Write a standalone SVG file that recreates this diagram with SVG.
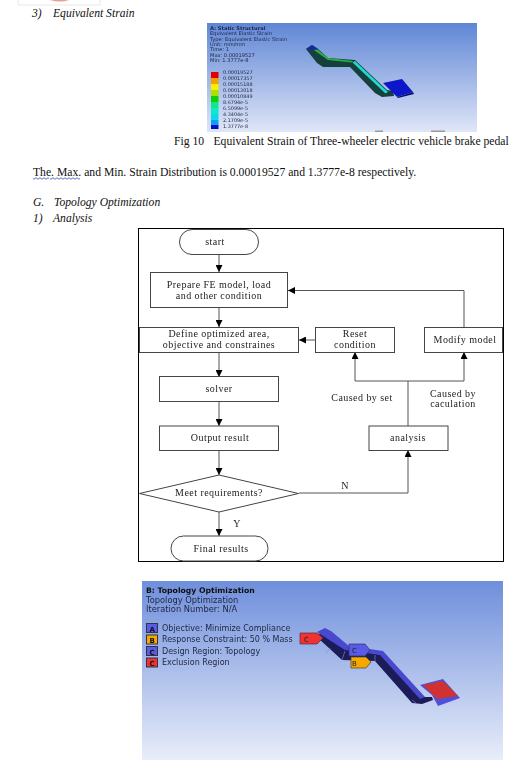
<svg xmlns="http://www.w3.org/2000/svg" width="531" height="769" viewBox="0 0 531 769">
<style>
text{font-family:"Liberation Serif","Times New Roman",serif;fill:#111}
.doc{font-size:11.67px}
.it{font-size:11.6px;font-style:italic}
.fc{font-size:10px;letter-spacing:.45px;text-anchor:middle;fill:#222}
.box{fill:#fff;stroke:#444;stroke-width:1}
.line{fill:none;stroke:#555;stroke-width:1}
.ans text{font-family:"DejaVu Sans",sans-serif;fill:#1f2540}
.leg{font-size:5.1px}
.val{font-size:4.9px}
.tree{font-size:8.3px}
.treel{font-size:8px}
.treeb{font-size:7.7px;font-weight:bold}
.sw{stroke:#334;stroke-width:1}
.tag{font-family:"DejaVu Sans",sans-serif;font-size:7px;fill:#222}
.tagb{font-family:"DejaVu Sans",sans-serif;font-size:7px;font-weight:bold;fill:#111}
.cut{fill:none;stroke:#8a8ad0;stroke-width:.6}
</style>
<defs>
<marker id="arr" markerWidth="8" markerHeight="7" refX="7" refY="3.500" orient="auto" markerUnits="userSpaceOnUse"><path d="M0 0L7 3.500L0 7z" fill="#000"/></marker>
<linearGradient id="g1" x1="0" y1="0" x2="0" y2="1"><stop offset="0" stop-color="#5f86d6"/><stop offset="1" stop-color="#dfe6f7"/></linearGradient>
<linearGradient id="g2" x1="0" y1="0" x2="0" y2="1"><stop offset="0" stop-color="#6f8fdc"/><stop offset="1" stop-color="#e8edf9"/></linearGradient>
<filter id="b" x="-2%" y="-2%" width="104%" height="104%"><feGaussianBlur stdDeviation=".3"/></filter>
<filter id="b2" x="-2%" y="-2%" width="104%" height="104%"><feGaussianBlur stdDeviation=".4"/></filter>
</defs>
<rect width="531" height="769" fill="#fff"/>

<g id="page-top">
<path d="M18 0V5H100V0" fill="none" stroke="#e8e8e8"/>
<path d="M50 0H69Q60 3 50 0z" fill="#f09a90"/>
<text class="it" x="32" y="17">3)</text>
<text class="it" x="53" y="17">Equivalent Strain</text>
</g>

<g id="strain-figure" filter="url(#b2)">
<rect x="207" y="23" width="270" height="109" fill="url(#g1)"/>
<g class="ans">
<text class="leg" x="210" y="29.500" font-weight="bold">A: Static Structural</text>
<text class="leg" x="210" y="35">Equivalent Elastic Strain</text>
<text class="leg" x="210" y="40.500">Type: Equivalent Elastic Strain</text>
<text class="leg" x="210" y="46">Unit: mm/mm</text>
<text class="leg" x="210" y="51">Time: 1</text>
<text class="leg" x="210" y="56.500">Max: 0.00019527</text>
<text class="leg" x="210" y="62">Min: 1.3777e-8</text>
<text class="val" x="223" y="73.500">0.00019527</text>
<text class="val" x="223" y="79.500">0.00017357</text>
<text class="val" x="223" y="85.500">0.00015188</text>
<text class="val" x="223" y="91.500">0.00013018</text>
<text class="val" x="223" y="97.500">0.00010849</text>
<text class="val" x="223" y="103.500">8.6794e-5</text>
<text class="val" x="223" y="110">6.5099e-5</text>
<text class="val" x="223" y="116">4.3404e-5</text>
<text class="val" x="223" y="122">2.1709e-5</text>
<text class="val" x="223" y="128">1.3777e-8</text>
</g>
<rect x="211" y="72" width="7.500" height="6" fill="#e00000"/>
<rect x="211" y="78" width="7.500" height="6" fill="#f0a000"/>
<rect x="211" y="84" width="7.500" height="6" fill="#f8f000"/>
<rect x="211" y="90" width="7.500" height="6" fill="#a8e000"/>
<rect x="211" y="96" width="7.500" height="6" fill="#10d000"/>
<rect x="211" y="102" width="7.500" height="6" fill="#10e890"/>
<rect x="211" y="108" width="7.500" height="6" fill="#10e8c8"/>
<rect x="211" y="114" width="7.500" height="6" fill="#10d8e8"/>
<rect x="211" y="120" width="7.500" height="5" fill="#10a0f0"/>
<rect x="211" y="125" width="7.500" height="4" fill="#0010c8"/>
<path d="M306 49L312 45L318 49L328 58L355 60L387 90L393 91L394 96L382 97L375 93L350 67L323 67L317 63z" fill="#173f3c"/>
<path d="M310 47L318 50L328 58L353 61L352 62.500L328 60L318 53z" fill="#28b040"/>
<path d="M355 61L388 92L385.500 93.500L352.500 62.500z" fill="#20d8d0"/>
<path d="M306 49L312 45L318 49L314 50z" fill="#1828a8"/>
<path d="M383 83L402 79L413 92L397 97z" fill="#0c18c8"/>
<path d="M397 97L413 92L414 94L398 98z" fill="#081070"/>
<rect x="375" y="130.500" width="8" height="1.500" fill="#999"/>
<rect x="431" y="130.500" width="14" height="1.500" fill="#999"/>
</g>

<g id="page-text">
<text class="doc" x="174" y="145">Fig 10</text>
<text class="doc" x="213.500" y="145">Equivalent Strain of Three-wheeler electric vehicle brake pedal</text>
<text class="doc" x="33" y="176">The. Max. and Min. Strain Distribution is 0.00019527 and 1.3777e-8 respectively.</text>
<path d="M33 178.500q1 1.500 2 0t2 0t2 0t2 0t2 0t2 0t2 0t2 0M50 178.500q1 1.500 2 0t2 0t2 0t2 0t2 0t2 0t2 0t2 0t2 0t2 0t2 0t2 0t2 0t2 0t2 0" fill="none" stroke="#2a4fc0" stroke-width=".8"/>
<text class="it" x="33" y="206">G.</text>
<text class="it" x="54" y="206">Topology Optimization</text>
<text class="it" x="33" y="222">1)</text>
<text class="it" x="53" y="222">Analysis</text>
</g>

<g id="flowchart" filter="url(#b)">
<rect id="frame" x="138.500" y="228.500" width="365" height="333" fill="#fff" stroke="#000" stroke-width="1"/>
<g id="connectors">
<path class="line" d="M219 254V272" marker-end="url(#arr)"/>
<path class="line" d="M219 308V327" marker-end="url(#arr)"/>
<path class="line" d="M219 352V377" marker-end="url(#arr)"/>
<path class="line" d="M219 401V426" marker-end="url(#arr)"/>
<path class="line" d="M219 450V475" marker-end="url(#arr)"/>
<path class="line" d="M219 512V536" marker-end="url(#arr)"/>
<path class="line" d="M299 493H408V450" marker-end="url(#arr)"/>
<path class="line" d="M408 426V381"/>
<path class="line" d="M408 381H355V352" marker-end="url(#arr)"/>
<path class="line" d="M408 381H464V352" marker-end="url(#arr)"/>
<path class="line" d="M464 327V290.500H288" marker-end="url(#arr)"/>
<path class="line" d="M315 340H299" marker-end="url(#arr)"/>
</g>
<g id="n-start"><rect class="box" x="179.500" y="229.500" width="79" height="25" rx="12.500"/><text class="fc" x="215" y="245">start</text></g>
<g id="n-prepare"><rect class="box" x="150.500" y="272.500" width="137" height="35"/><text class="fc" x="219" y="288">Prepare FE model, load</text><text class="fc" x="219" y="299">and other condition</text></g>
<g id="n-define"><rect class="box" x="139.500" y="327.500" width="159" height="25"/><text class="fc" x="219" y="337">Define optimized area,</text><text class="fc" x="219" y="348">objective and constraines</text></g>
<g id="n-reset"><rect class="box" x="315.500" y="327.500" width="79" height="25"/><text class="fc" x="355" y="337">Reset</text><text class="fc" x="355" y="348">condition</text></g>
<g id="n-modify"><rect class="box" x="424.500" y="327.500" width="78" height="25"/><text class="fc" x="465" y="343">Modify model</text></g>
<g id="n-solver"><rect class="box" x="159.500" y="376.500" width="119" height="25"/><text class="fc" x="219" y="392">solver</text></g>
<g id="n-output"><rect class="box" x="159.500" y="426" width="119" height="24.500"/><text class="fc" x="220" y="441">Output result</text></g>
<g id="n-analysis"><rect class="box" x="369" y="426" width="79" height="24.500"/><text class="fc" x="408" y="441">analysis</text></g>
<g id="n-meet"><path class="box" d="M219 475L298.500 493.500L219 512L139.500 493.500z"/><text class="fc" x="219" y="496">Meet requirements?</text></g>
<g id="n-final"><rect class="box" x="171" y="536" width="97" height="25" rx="12.500"/><text class="fc" x="221" y="552">Final results</text></g>
<g id="edge-labels">
<text class="fc" x="362" y="401">Caused by set</text>
<text class="fc" x="453" y="397">Caused by</text>
<text class="fc" x="453" y="407">caculation</text>
<text class="fc" x="345" y="489">N</text>
<text class="fc" x="237" y="527">Y</text>
</g>
</g>

<g id="topology-figure" filter="url(#b2)">
<rect x="142" y="581" width="361" height="179" fill="url(#g2)"/>
<g class="ans">
<text class="treeb" x="146" y="593" style="fill:#111">B: Topology Optimization</text>
<text class="tree" x="146" y="602.500">Topology Optimization</text>
<text class="tree" x="146" y="612">Iteration Number: N/A</text>
<text class="treel" x="162" y="631">Objective: Minimize Compliance</text>
<text class="treel" x="162" y="642">Response Constraint: 50 % Mass</text>
<text class="treel" x="162" y="653.500">Design Region: Topology</text>
<text class="treel" x="162" y="664.500">Exclusion Region</text>
</g>
<rect class="sw" x="146.500" y="623.500" width="11" height="9" fill="#5a5ae8"/>
<rect class="sw" x="146.500" y="635" width="11" height="9" fill="#f4a800"/>
<rect class="sw" x="146.500" y="646.500" width="11" height="9" fill="#5a5ae8"/>
<rect class="sw" x="146.500" y="658" width="11" height="9" fill="#f03030"/>
<text class="tagb" x="149.500" y="631.500">A</text>
<text class="tagb" x="149.500" y="643">B</text>
<text class="tagb" x="149.500" y="654.500">C</text>
<text class="tagb" x="149.500" y="666">C</text>
<path d="M317 636L322 632L347 649L383 655L420 697L432 697L433 700L422 704L412 703L375 661L342 660L318 638z" fill="#1c1c58"/>
<path d="M317 632L325 628L331 631L349 646L383 651L425 697L420 699L380 655L345 650L320 634z" fill="#4a4ad0"/>
<path class="cut" d="M330 648L326 653M345 651L342 660M375 655L375 661M412 700L416 703"/>
<path d="M420 685L443 679L460 698L438 706L432 695z" fill="#5050d8"/>
<path d="M423 685L443 681L458 696L437 699z" fill="#d03030"/>
<path d="M300 633H317L323 638L317 644H300z" fill="#f03030" stroke="#503040" stroke-width=".7"/>
<path d="M349 644H365L370 650L365 656H349z" fill="#5a5ae8" stroke="#303060" stroke-width=".7"/>
<path d="M351 657H366L371 662L366 668H351z" fill="#f4a800" stroke="#504020" stroke-width=".7"/>
<text class="tag" x="304" y="641.500">C</text>
<text class="tag" x="352" y="653">C</text>
<text class="tag" x="352" y="666">B</text>
</g>
</svg>
